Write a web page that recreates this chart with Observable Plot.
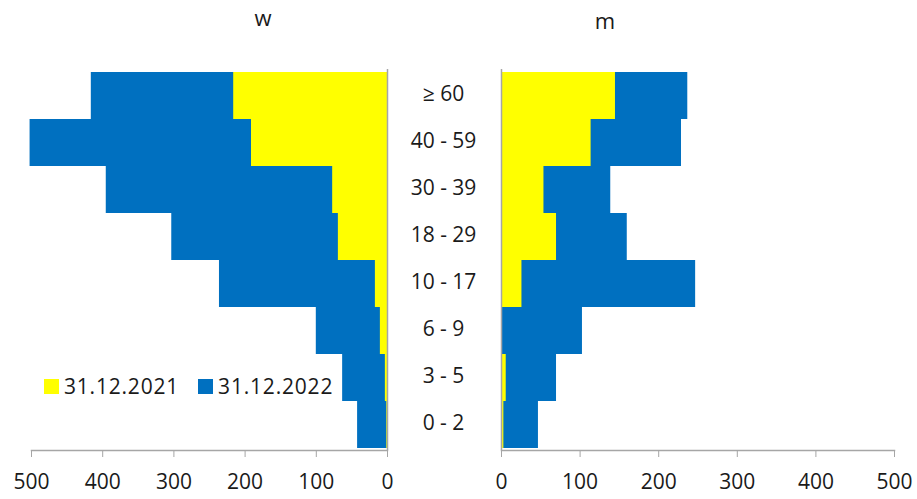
<!DOCTYPE html>
<html>
<head>
<meta charset="utf-8">
<script src="https://cdn.jsdelivr.net/npm/d3@7"></script>
<script src="https://cdn.jsdelivr.net/npm/@observablehq/plot@0.6"></script>
<style>
  html, body { margin: 0; padding: 0; background: #fff; }
  #wrap { position: relative; width: 917px; height: 499px; overflow: hidden; font-family: "Open Sans", "Noto Sans", sans-serif; color: #1a1a1a; }
  .panel { position: absolute; top: 0; }
  .title { position: absolute; font-size: 22px; line-height: 1; transform: translateX(-50%); }
  .legend { position: absolute; left: 44px; top: 372px; display: flex; align-items: center; font-size: 21px; letter-spacing: 0.8px; }
  .sw { display: inline-block; width: 15px; height: 15px; margin-right: 5px; }
  .item { display: flex; align-items: center; margin-right: 19px; }
</style>
</head>
<body>
<div id="wrap"></div>
<script>
const categories = ["≥ 60", "40 - 59", "30 - 39", "18 - 29", "10 - 17", "6 - 9", "3 - 5", "0 - 2"];
const w2021 = [216, 191, 77, 69, 17, 10, 3, 1];
const w2022 = [416, 502, 395, 303, 236, 100, 63, 42];
const m2021 = [145, 114, 54, 70, 26, 0, 6, 3];
const m2022 = [237, 229, 139, 160, 247, 103, 70, 47];
const seriesNames = ["31.12.2021", "31.12.2022"];
const xTicks = [0, 100, 200, 300, 400, 500];
const colors = {"31.12.2021": "#FFFF00", "31.12.2022": "#0070C0"};

const wData = categories.flatMap((c, i) => [
  {age: c, series: seriesNames[1], value: w2022[i]},
  {age: c, series: seriesNames[0], value: w2021[i]}
]);
const mData = categories.flatMap((c, i) => [
  {age: c, series: seriesNames[1], value: m2022[i]},
  {age: c, series: seriesNames[0], value: m2021[i]}
]);

const wrap = document.getElementById("wrap");
const axisColor = "#a6a6a6";
const font = "\"Open Sans\", \"Noto Sans\", sans-serif";

const common = {
  height: 499,
  marginTop: 69,
  marginBottom: 49,
  style: {fontFamily: font, fontSize: "21px", color: "#1a1a1a", background: "transparent"},
  y: {domain: categories, padding: 0, axis: null},
  color: {domain: seriesNames, range: seriesNames.map(s => colors[s])}
};

const left = Plot.plot({
  ...common,
  width: 400,
  marginLeft: 31,
  marginRight: 13,
  x: {domain: [0, 500], reverse: true, ticks: xTicks, label: null},
  marks: [
    Plot.barX(wData, {y: "age", x1: 0, x2: "value", fill: "series"}),
    Plot.ruleX([0], {stroke: axisColor, strokeWidth: 1.5}),
    Plot.frame({anchor: "bottom", stroke: axisColor, strokeWidth: 1.5}),
    Plot.axisX({ticks: xTicks, tickSize: 7, tickPadding: 17, stroke: axisColor, fill: "#1a1a1a", label: null, fontSize: 21})
  ]
});
left.classList.add("panel");
left.style.left = "0px";
wrap.appendChild(left);

const right = Plot.plot({
  ...common,
  width: 537,
  marginLeft: 121,
  marginRight: 23,
  x: {domain: [0, 500], ticks: xTicks, label: null},
  marks: [
    Plot.barX(mData, {y: "age", x1: 0, x2: "value", fill: "series"}),
    Plot.ruleX([0], {stroke: axisColor, strokeWidth: 1.5}),
    Plot.frame({anchor: "bottom", stroke: axisColor, strokeWidth: 1.5}),
    Plot.axisX({ticks: xTicks, tickSize: 7, tickPadding: 17, stroke: axisColor, fill: "#1a1a1a", label: null, fontSize: 21}),
    Plot.text(categories, {y: d => d, x: 0, text: d => d, dx: -58, dy: -2, textAnchor: "middle", fontSize: 21, fill: "#1a1a1a"})
  ]
});
right.classList.add("panel");
right.style.left = "380px";
wrap.appendChild(right);

function addTitle(text, x, y) {
  const t = document.createElement("div");
  t.className = "title";
  t.textContent = text;
  t.style.left = x + "px";
  t.style.top = y + "px";
  wrap.appendChild(t);
}
addTitle("w", 263, 6);
addTitle("m", 605, 9);

const legend = document.createElement("div");
legend.className = "legend";
seriesNames.forEach(s => {
  const item = document.createElement("div");
  item.className = "item";
  const sw = document.createElement("span");
  sw.className = "sw";
  sw.style.background = colors[s];
  item.appendChild(sw);
  const lab = document.createElement("span");
  lab.textContent = s;
  item.appendChild(lab);
  legend.appendChild(item);
});
wrap.appendChild(legend);
</script>
</body>
</html>
